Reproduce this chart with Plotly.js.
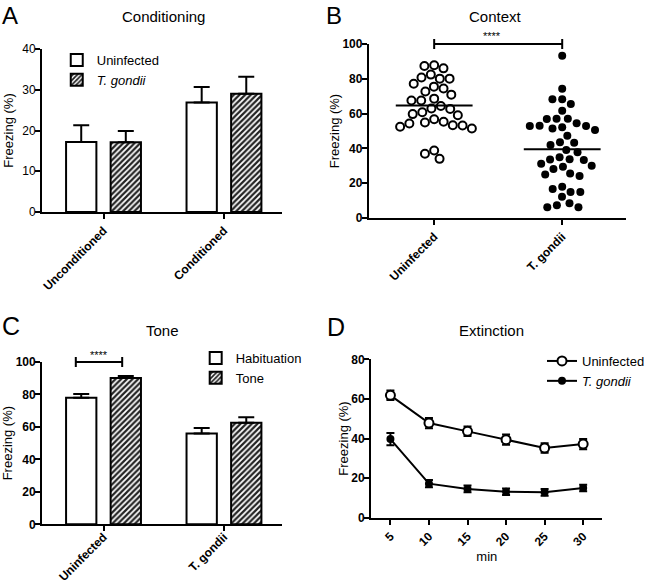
<!DOCTYPE html>
<html>
<head>
<meta charset="utf-8">
<script src="https://cdn.plot.ly/plotly-3.0.1.min.js"></script>
<style>html,body{margin:0;padding:0;background:#fff;}#chart{width:650px;height:584px;}</style>
</head>
<body>
<div id="chart"></div>
<script>
// ---------------- DATA ----------------
const condCategories = ['Unconditioned', 'Conditioned'];
const condUninfected = [17.2, 26.9];
const condUninfectedErr = [4.1, 3.8];
const condTgondii = [17.1, 29.0];
const condTgondiiErr = [2.8, 4.2];

const contextCategories = ['Uninfected', 'T. gondii'];
const contextUninfected = [87.4, 87.8, 86.0, 82.4, 80.1, 80.7, 80.1, 77.2, 74.4, 75.5, 72.7,
  70.9, 67.5, 67.5, 68.6, 62.9, 60.8, 59.1, 59.7, 62.7, 64.4, 56.8, 54.9, 53.3, 52.4, 51.4,
  53.2, 54.3, 55.3, 38.8, 34.0, 36.9];
const contextTgondii = [93.2, 74.3, 68.2, 68.2, 65.5, 61.7, 57.0, 56.9, 57.0, 54.5, 53.0, 52.2,
  50.6, 51.5, 52.9, 52.9, 47.3, 43.5, 42.0, 43.2, 37.8, 39.1, 33.7, 33.4, 33.6, 34.9, 31.2,
  29.5, 30.0, 28.1, 25.6, 24.1, 25.0, 18.0, 12.2, 15.0, 15.0, 16.7, 7.3, 6.2, 6.2, 8.5];

const toneCategories = ['Uninfected', 'T. gondii'];
const toneHabituation = [77.9, 56.0];
const toneHabituationErr = [2.4, 3.3];
const toneTone = [90.1, 62.6];
const toneToneErr = [1.3, 3.3];

const extMinutes = [5, 10, 15, 20, 25, 30];
const extUninfected = [61.8, 47.8, 43.6, 39.4, 35.2, 37.2];
const extUninfectedErr = [2.4, 2.6, 2.4, 2.6, 2.4, 2.6];
const extTgondii = [39.7, 17.2, 14.5, 13.1, 12.8, 15.0];
const extTgondiiErr = [3.1, 1.8, 1.7, 1.6, 1.7, 1.6];

const sigLabel = '****';
const sigLevel = 100;

// ---------------- HELPERS ----------------
const FONT = 'Arial, "Liberation Sans", sans-serif';
const W = 650, H = 584;
const px = v => v / W;
const py = v => 1 - v / H;
const zeros = a => a.map(() => 0);
const mean = a => a.reduce((s, v) => s + v, 0) / a.length;

// beeswarm offsets computed in pixel space
function swarm(values, pxPerX, pxPerY, d) {
  const order = values.map((v, i) => i).sort((a, b) => values[b] - values[a]);
  const placed = [];
  const off = new Array(values.length);
  order.forEach(i => {
    const y = values[i] * pxPerY;
    const cands = [0];
    placed.forEach(p => {
      const dy = Math.abs(p.y - y);
      if (dy < d) { const dx = Math.sqrt(d * d - dy * dy); cands.push(p.x + dx, p.x - dx); }
    });
    cands.sort((a, b) => Math.abs(a) - Math.abs(b) || a - b);
    const x = cands.find(c => placed.every(p => (p.x - c) ** 2 + (p.y - y) ** 2 >= d * d - 1e-6));
    placed.push({x, y});
    off[i] = x / pxPerX;
  });
  return off;
}

// ---------------- AXES ----------------
const domA = {x: [px(43), px(288)], y: [py(212), py(49)]};
const domB = {x: [px(377), px(640)], y: [py(218), py(44)]};
const domC = {x: [px(43), px(288)], y: [py(524.3), py(362)]};
const domD = {x: [px(379.3), px(615.7)], y: [py(517.7), py(359.3)]};

const tickBold = {family: FONT, size: 12, color: 'black', weight: 'bold'};
const tickReg = {family: FONT, size: 12, color: 'black'};
const axBase = {
  showline: true, linecolor: 'black', linewidth: 2, mirror: false,
  ticks: 'outside', ticklen: 5, tickwidth: 2, tickcolor: 'black',
  showgrid: false, zeroline: false, fixedrange: true, tickfont: tickBold
};
const yBase = Object.assign({}, axBase, {ticklabelstandoff: -3});
const yTitle = (standoff) => ({text: 'Freezing (%)', font: {family: FONT, size: 13, color: 'black'}, standoff: standoff});

// B geometry for swarm
const bRange = [-0.51, 1.5];
const bYRange = [0, 100];
const bPxPerX = (640 - 377) / (bRange[1] - bRange[0]);
const bPxPerY = (218 - 44) / (bYRange[1] - bYRange[0]);
const offU = swarm(contextUninfected, bPxPerX, bPxPerY, 10);
const offT = swarm(contextTgondii, bPxPerX, bPxPerY, 10);
const meanHalf = 0.3;

const blackLine = {color: 'black', width: 2};
const hatch = {shape: '/', fgcolor: '#222', bgcolor: 'white', size: 4, solidity: 0.55};

const traces = [
  // A
  {type: 'bar', x: condCategories, y: condUninfected, name: 'Uninfected', xaxis: 'x', yaxis: 'y',
   legend: 'legend', legendgroup: 'a1',
   marker: {color: 'white', line: blackLine},
   error_y: {type: 'data', array: condUninfectedErr, arrayminus: zeros(condUninfectedErr), symmetric: false, color: 'black', thickness: 2, width: 8}},
  {type: 'bar', x: condCategories, y: condTgondii, name: '<i>T. gondii</i>', xaxis: 'x', yaxis: 'y',
   legend: 'legend', legendgroup: 'a2',
   marker: {color: 'white', line: blackLine, pattern: hatch},
   error_y: {type: 'data', array: condTgondiiErr, arrayminus: zeros(condTgondiiErr), symmetric: false, color: 'black', thickness: 2, width: 8}},
  // B
  {type: 'scatter', mode: 'markers', x: offU.map(o => 0 + o), y: contextUninfected, xaxis: 'x2', yaxis: 'y2', showlegend: false,
   marker: {symbol: 'circle', size: 8, color: 'white', line: {color: 'black', width: 2}}, cliponaxis: false},
  {type: 'scatter', mode: 'markers', x: offT.map(o => 1 + o), y: contextTgondii, xaxis: 'x2', yaxis: 'y2', showlegend: false,
   marker: {symbol: 'circle', size: 8, color: 'black'}, cliponaxis: false},
  {type: 'scatter', mode: 'lines', x: [0 - meanHalf, 0 + meanHalf], y: [mean(contextUninfected), mean(contextUninfected)],
   xaxis: 'x2', yaxis: 'y2', showlegend: false, line: blackLine},
  {type: 'scatter', mode: 'lines', x: [1 - meanHalf, 1 + meanHalf], y: [mean(contextTgondii), mean(contextTgondii)],
   xaxis: 'x2', yaxis: 'y2', showlegend: false, line: blackLine},
  // C
  {type: 'bar', x: toneCategories, y: toneHabituation, name: 'Habituation', xaxis: 'x3', yaxis: 'y3',
   legend: 'legend2', legendgroup: 'c1',
   marker: {color: 'white', line: blackLine},
   error_y: {type: 'data', array: toneHabituationErr, arrayminus: zeros(toneHabituationErr), symmetric: false, color: 'black', thickness: 2, width: 8}},
  {type: 'bar', x: toneCategories, y: toneTone, name: 'Tone', xaxis: 'x3', yaxis: 'y3',
   legend: 'legend2', legendgroup: 'c2',
   marker: {color: 'white', line: blackLine, pattern: hatch},
   error_y: {type: 'data', array: toneToneErr, arrayminus: zeros(toneToneErr), symmetric: false, color: 'black', thickness: 2, width: 8}},
  // D
  {type: 'scatter', mode: 'lines+markers', x: extMinutes, y: extUninfected, name: 'Uninfected', xaxis: 'x4', yaxis: 'y4',
   legend: 'legend3', legendgroup: 'd1',
   line: blackLine, marker: {symbol: 'circle', size: 9, color: 'white', line: {color: 'black', width: 2}},
   error_y: {type: 'data', array: extUninfectedErr, color: 'black', thickness: 2, width: 4}},
  {type: 'scatter', mode: 'lines+markers', x: extMinutes, y: extTgondii, name: '<i>T. gondii</i>', xaxis: 'x4', yaxis: 'y4',
   legend: 'legend3', legendgroup: 'd2',
   line: blackLine, marker: {symbol: 'circle', size: 8, color: 'black'},
   error_y: {type: 'data', array: extTgondiiErr, color: 'black', thickness: 2, width: 4}}
];

const legendBase = {bgcolor: 'rgba(0,0,0,0)', borderwidth: 0, font: {family: FONT, size: 13, color: 'black'},
  xanchor: 'left', yanchor: 'top', tracegroupgap: 0, orientation: 'v'};

const annFont = (s) => ({family: FONT, size: s, color: 'black'});
const ann = (text, x, y, size, yanchor) => ({text, x: px(x), y: py(y), xref: 'paper', yref: 'paper', showarrow: false,
  xanchor: 'center', yanchor: yanchor || 'middle', font: annFont(size)});

const bDomFrac = v => (v - bYRange[0]) / (bYRange[1] - bYRange[0]);
const cYRange = [0, 100];
const cDomFrac = v => (v - cYRange[0]) / (cYRange[1] - cYRange[0]);
const tickDom = 5 / 174;

const layout = {
  width: W, height: H, margin: {l: 0, r: 0, t: 0, b: 0},
  paper_bgcolor: 'white', plot_bgcolor: 'white',
  font: {family: FONT, color: 'black'},
  barmode: 'group', bargap: 0.26, bargroupgap: 0.32,
  xaxis: Object.assign({}, axBase, {domain: domA.x, anchor: 'y', type: 'category', range: [-0.51, 1.48], tickangle: -45}),
  yaxis: Object.assign({}, yBase, {domain: domA.y, anchor: 'x', range: [0, 40], dtick: 10, tickfont: tickReg, title: yTitle(6)}),
  xaxis2: Object.assign({}, axBase, {domain: domB.x, anchor: 'y2', range: bRange, tickvals: [0, 1], ticktext: contextCategories, tickangle: -45}),
  yaxis2: Object.assign({}, yBase, {domain: domB.y, anchor: 'x2', range: bYRange, dtick: 20, title: yTitle(0)}),
  xaxis3: Object.assign({}, axBase, {domain: domC.x, anchor: 'y3', type: 'category', range: [-0.51, 1.48], tickangle: -45, ticklabelstandoff: -6}),
  yaxis3: Object.assign({}, yBase, {domain: domC.y, anchor: 'x3', range: cYRange, dtick: 20, title: yTitle(4)}),
  xaxis4: Object.assign({}, axBase, {domain: domD.x, anchor: 'y4', range: [2.5, 32.5], tickvals: extMinutes, tickangle: -45,
    title: {text: 'min', font: {family: FONT, size: 13, color: 'black'}, standoff: 2}}),
  yaxis4: Object.assign({}, yBase, {domain: domD.y, anchor: 'x4', range: [0, 80], dtick: 20, title: yTitle(0)}),
  legend: Object.assign({}, legendBase, {x: px(58), y: py(45)}),
  legend2: Object.assign({}, legendBase, {x: px(200), y: py(343)}),
  legend3: Object.assign({}, legendBase, {x: px(554), y: py(346)}),
  shapes: [
    // B bracket
    {type: 'line', xref: 'x2', yref: 'y2 domain', x0: 0, x1: 1, y0: bDomFrac(sigLevel), y1: bDomFrac(sigLevel), line: blackLine},
    {type: 'line', xref: 'x2', yref: 'y2 domain', x0: 0, x1: 0, y0: bDomFrac(sigLevel) - tickDom, y1: bDomFrac(sigLevel) + tickDom, line: blackLine},
    {type: 'line', xref: 'x2', yref: 'y2 domain', x0: 1, x1: 1, y0: bDomFrac(sigLevel) - tickDom, y1: bDomFrac(sigLevel) + tickDom, line: blackLine},
    // C bracket
    {type: 'line', xref: 'x3', yref: 'y3 domain', x0: -0.23, x1: 0.155, y0: cDomFrac(sigLevel), y1: cDomFrac(sigLevel), line: blackLine},
    {type: 'line', xref: 'x3', yref: 'y3 domain', x0: -0.23, x1: -0.23, y0: cDomFrac(sigLevel) - 5 / 162, y1: cDomFrac(sigLevel) + 5 / 162, line: blackLine},
    {type: 'line', xref: 'x3', yref: 'y3 domain', x0: 0.155, x1: 0.155, y0: cDomFrac(sigLevel) - 5 / 162, y1: cDomFrac(sigLevel) + 5 / 162, line: blackLine}
  ],
  annotations: [
    ann('A', 10, 0, 24, 'top'), ann('B', 341, 0, 24, 'top'), ann('C', 11, 326, 25), ann('D', 343, 327, 25),
    ann('Conditioning', 167.5, 16, 15), ann('Context', 506, 16, 15), ann('Tone', 166, 330, 15), ann('Extinction', 502.5, 330, 15),
    {text: sigLabel, xref: 'x2', yref: 'y2 domain', x: 0.45, y: bDomFrac(sigLevel), yshift: 8, showarrow: false,
     xanchor: 'center', yanchor: 'middle', font: annFont(11)},
    {text: sigLabel, xref: 'x3', yref: 'y3 domain', x: -0.04, y: cDomFrac(sigLevel), yshift: 7, showarrow: false,
     xanchor: 'center', yanchor: 'middle', font: annFont(11)}
  ]
};

Plotly.newPlot('chart', traces, layout, {staticPlot: true, displayModeBar: false});
</script>
</body>
</html>
